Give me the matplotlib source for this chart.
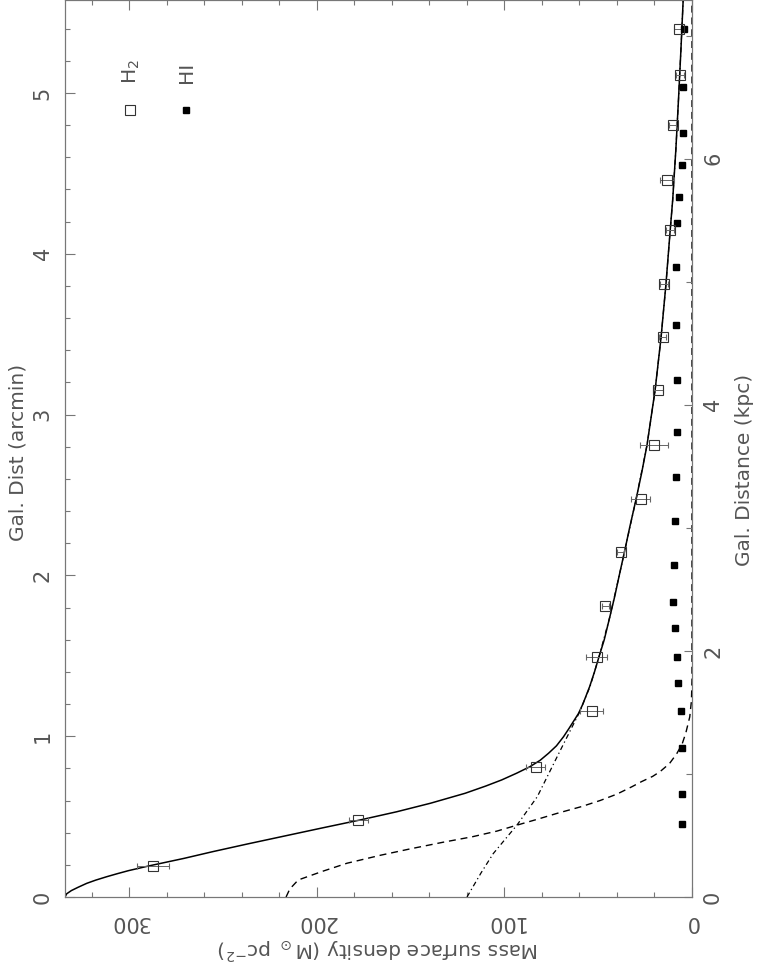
import matplotlib
matplotlib.use("Agg")
import matplotlib.pyplot as plt
from matplotlib.ticker import MultipleLocator

# ---------------- data ----------------
# H2 surface density (open squares) : radius in arcmin, density in Msun/pc^2
h2_r = [0.195, 0.479, 0.81, 1.159, 1.494, 1.81, 2.147, 2.475, 2.81, 3.15,
        3.48, 3.81, 4.15, 4.46, 4.80, 5.11, 5.40]
h2_sigma = [287.6, 178.0, 83.4, 53.5, 50.8, 46.2, 38.0, 27.4, 20.3, 18.0,
            15.6, 14.9, 11.7, 13.2, 10.3, 6.4, 6.8]
h2_err = [8.5, 5.0, 5.2, 6.2, 5.7, 2.0, 2.0, 5.0, 7.5, 2.7,
          2.0, 2.0, 2.0, 3.6, 2.0, 2.0, 3.0]

# HI surface density (filled squares)
hi_r = [0.454, 0.64, 0.928, 1.159, 1.333, 1.494, 1.67, 1.834, 2.065, 2.34,
        2.61, 2.89, 3.215, 3.56, 3.92, 4.19, 4.355, 4.55, 4.75, 5.035, 5.40]
hi_sigma = [5.2, 5.5, 5.5, 6.0, 7.3, 8.2, 9.1, 10.3, 9.6, 9.1,
            8.5, 8.2, 8.2, 8.5, 8.5, 7.8, 6.9, 5.5, 5.0, 4.6, 4.1]

# total fit (solid)
fit_r = [0.0, 0.02, 0.04, 0.06, 0.085, 0.105, 0.126, 0.145, 0.164, 0.195,
         0.24, 0.282, 0.33, 0.375, 0.43, 0.479, 0.53, 0.583, 0.645, 0.69,
         0.728, 0.77, 0.81, 0.85, 0.894, 0.94, 0.997, 1.05, 1.142, 1.2,
         1.308, 1.4, 1.494, 1.6, 1.743, 1.87, 2.0, 2.147, 2.3, 2.475,
         2.64, 2.81, 3.15, 3.48, 3.81, 4.15, 4.335, 4.65, 4.96, 5.27, 5.58]
fit_sigma = [334.4, 333.5, 331.0, 327.5, 322.8, 318.0, 312.2, 306.5, 300.5, 289.0,
             271.0, 255.6, 237.0, 219.0, 197.0, 177.0, 157.5, 139.5, 121.0, 110.0,
             101.5, 93.5, 86.5, 81.0, 76.5, 72.3, 68.5, 65.5, 60.5, 58.2,
             54.6, 52.0, 49.6, 46.8, 43.8, 41.2, 38.8, 36.0, 33.2, 29.8,
             26.8, 24.0, 19.7, 16.5, 13.9, 11.6, 10.3, 8.6, 7.2, 5.9, 4.7]

# inner component (dashed)
in_r = [0.0, 0.05, 0.106, 0.16, 0.21, 0.26, 0.30, 0.34, 0.375, 0.41,
        0.448, 0.485, 0.52, 0.562, 0.6, 0.64, 0.686, 0.717, 0.75, 0.78,
        0.83, 0.89, 0.95, 1.02, 1.12, 1.22, 1.35, 5.6]
in_sigma = [216.5, 214.5, 210.0, 197.0, 184.0, 166.0, 150.0, 133.0, 117.0, 104.0,
            93.0, 82.0, 72.0, 59.0, 49.0, 40.0, 32.0, 27.0, 21.0, 17.0,
            12.0, 8.2, 5.3, 3.3, 1.2, 0.3, 0.0, 0.0]

# outer exponential component (dash-dot)
out_r = [0.0, 0.15, 0.27, 0.448, 0.624, 0.894, 1.142, 1.308, 1.494, 1.743,
         2.0, 2.147, 2.475, 2.81, 3.15, 3.48, 3.81, 4.15, 4.335, 4.65,
         4.96, 5.27, 5.58]
out_sigma = [120.0, 112.5, 106.0, 93.3, 82.5, 71.0, 60.3, 54.4, 49.6, 43.8,
             38.8, 36.0, 29.8, 24.0, 19.7, 16.5, 13.9, 11.6, 10.3, 8.6,
             7.2, 5.9, 4.7]

KPC_PER_ARCMIN = 1.307
R_MAX = 5.575
SIGMA_MAX = 334.4

x_ticks = [0, 100, 200, 300]
y_ticks = [0, 1, 2, 3, 4, 5]
kpc_ticks = [0, 2, 4, 6]

TXT = "#555555"
AXC = "#777777"

plt.rcParams["font.family"] = ["DejaVu Sans"]

fig = plt.figure(figsize=(7.71, 9.74), dpi=100)
ax = fig.add_axes([65 / 771, 77 / 974, 627 / 771, 896.5 / 974])

# ---------------- curves & points ----------------
ax.plot(fit_sigma, fit_r, "-", color="black", lw=1.1, zorder=3)
ax.plot(in_sigma, in_r, color="black", lw=1.0, linestyle=(0, (5, 3.5)), zorder=3)
ax.plot(out_sigma, out_r, color="black", lw=0.9, linestyle=(0, (4, 2.5, 1, 2.5)), zorder=3)
ax.errorbar(h2_sigma, h2_r, xerr=h2_err, fmt="s", mfc="none", mec="#333333",
            ms=6.5, mew=0.8, ecolor="#666666", elinewidth=0.7, capsize=2,
            capthick=0.7, zorder=4)
ax.plot(hi_sigma, hi_r, "s", color="black", ms=4.2, zorder=4, linestyle="none")

ax.set_xlim(SIGMA_MAX, 0)
ax.set_ylim(0, R_MAX)

ax.set_xticks(x_ticks)
ax.xaxis.set_minor_locator(MultipleLocator(20))
ax.set_yticks(y_ticks)
ax.yaxis.set_minor_locator(MultipleLocator(0.2))

ax.tick_params(which="both", direction="in", top=True, right=False,
               color=AXC, width=0.8, labelcolor=TXT)
ax.tick_params(which="major", length=7.2)
ax.tick_params(which="minor", length=3.4)
ax.tick_params(axis="x", which="major", labelsize=15, pad=11, labelrotation=180)
ax.tick_params(axis="y", which="major", labelsize=15, pad=9, labelrotation=90)
for lab in ax.get_yticklabels():
    lab.set_va("center")

for sp in ax.spines.values():
    sp.set_color(AXC)
    sp.set_linewidth(0.8)

# right axis in kpc
ax2 = ax.twinx()
ax2.set_ylim(0, R_MAX * KPC_PER_ARCMIN)
ax2.set_yticks(kpc_ticks)
ax2.yaxis.set_minor_locator(MultipleLocator(1))
ax2.tick_params(which="both", direction="in", color=AXC, width=0.8, labelcolor=TXT)
ax2.tick_params(which="major", length=6.0, labelsize=15, pad=8, labelrotation=90)
ax2.tick_params(which="minor", length=4.5)
for lab in ax2.get_yticklabels():
    lab.set_va("center")
for sp in ax2.spines.values():
    sp.set_color(AXC)
    sp.set_linewidth(0.8)

# ---------------- labels ----------------
fig.text(378 / 771, 1 - 949 / 974, r"Mass surface density (M$_\odot$ pc$^{-2}$)",
         rotation=180, ha="center", va="center", fontsize=14.5, color=TXT)
fig.text(18 / 771, 1 - 452 / 974, "Gal. Dist (arcmin)", rotation=90,
         ha="center", va="center", fontsize=14.5, color=TXT)
fig.text(745 / 771, 1 - 470 / 974, "Gal. Distance (kpc)", rotation=90,
         ha="center", va="center", fontsize=14.5, color=TXT)

# ---------------- legend ----------------
ax.plot([0.1037], [0.878], "s", transform=ax.transAxes, mfc="none",
        mec="#333333", ms=6.5, mew=0.8)
ax.plot([0.193], [0.878], "s", transform=ax.transAxes, color="black", ms=4.2)
fig.text(131 / 771, 1 - 72 / 974, r"H$_2$", rotation=90, ha="center",
         va="center", fontsize=14.5, color=TXT)
fig.text(187 / 771, 1 - 72 / 974, "HI", rotation=90, ha="center",
         va="center", fontsize=14.5, color=TXT)

fig.savefig("out.png", dpi=100)
